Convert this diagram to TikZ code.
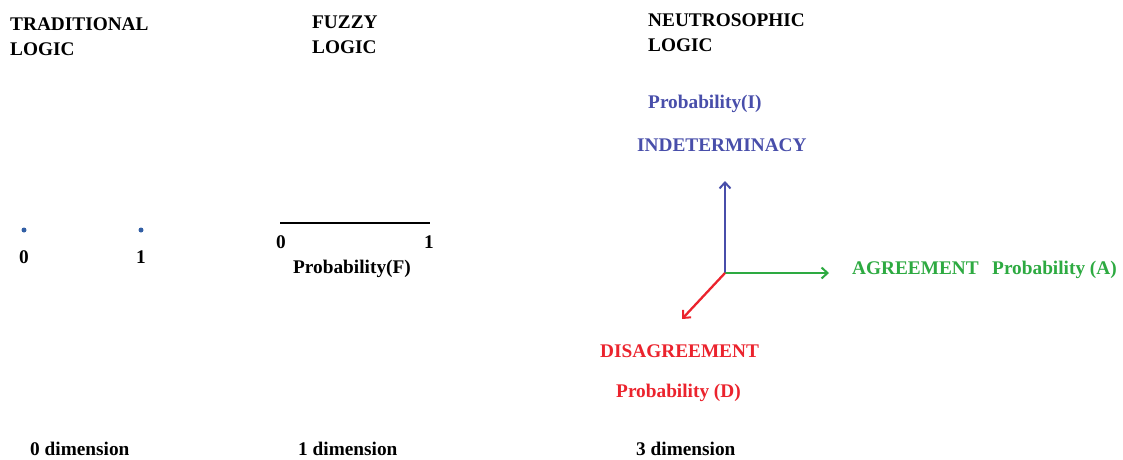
\documentclass[tikz,border=0pt]{standalone}
\usepackage{fontspec}
\setmainfont{Liberation Serif}
\usetikzlibrary{arrows.meta}
\definecolor{indblue}{RGB}{72,78,170}
\definecolor{agrgreen}{RGB}{45,170,65}
\definecolor{disred}{RGB}{235,35,45}
\definecolor{dotblue}{RGB}{50,95,165}
\begin{document}
\begin{tikzpicture}[x=1pt,y=-1pt]
        \tikzstyle{every node}+=[inner sep=0pt]
        \tikzstyle{lbl}=[font=\fontsize{19.3}{25}\selectfont\bfseries, anchor=base west, align=left]
        \tikzstyle{num}=[font=\fontsize{19.3}{25}\selectfont\bfseries, anchor=base]
        \tikzstyle{axis}=[line width=2.3pt, -{Straight Barb[length=6pt,width=11pt,line width=2pt]}]
        \useasboundingbox (0,0) rectangle (1123,459);
        % headings
        \node [lbl] (trad) at (10,55) {TRADITIONAL\\LOGIC};
        \node [lbl] (fuzzy) at (312,53) {FUZZY\\LOGIC};
        \node [lbl] (neutro) at (648,51) {NEUTROSOPHIC\\LOGIC};
        % traditional logic
        \fill [dotblue] (24,230) circle (2.5) coordinate (d0);
        \fill [dotblue] (141,230) circle (2.5) coordinate (d1);
        \node [num] (t0) at (24,263) {0};
        \node [num] (t1) at (141,263) {1};
        % fuzzy logic
        \coordinate (f0) at (280,223);
        \coordinate (f1) at (430,223);
        \draw [black, line width=2.6pt] (f0) -- (f1);
        \node [num] (fz0) at (281,248) {0};
        \node [num] (fz1) at (429,248) {1};
        \node [lbl] (probf) at (293,273) {Probability(F)};
        % neutrosophic logic
        \coordinate (o) at (725,273);
        \coordinate (ti) at (725,181);
        \coordinate (ta) at (829,273);
        \coordinate (td) at (682,319);
        \draw [axis, indblue] (o) -- (ti);
        \draw [axis, agrgreen] (o) -- (ta);
        \draw [axis, disred] (o) -- (td);
        \node [lbl, indblue] (probi) at (648,108) {Probability(I)};
        \node [lbl, indblue] (ind) at (637,151) {INDETERMINACY};
        \node [lbl, agrgreen] (agr) at (852,274) {AGREEMENT};
        \node [lbl, agrgreen] (proba) at (992,274) {Probability (A)};
        \node [lbl, disred] (dis) at (600,357) {DISAGREEMENT};
        \node [lbl, disred] (probd) at (616,397) {Probability (D)};
        % dimensions
        \node [lbl] (dim0) at (30,455) {0 dimension};
        \node [lbl] (dim1) at (298,455) {1 dimension};
        \node [lbl] (dim3) at (636,455) {3 dimension};
\end{tikzpicture}
\end{document}
